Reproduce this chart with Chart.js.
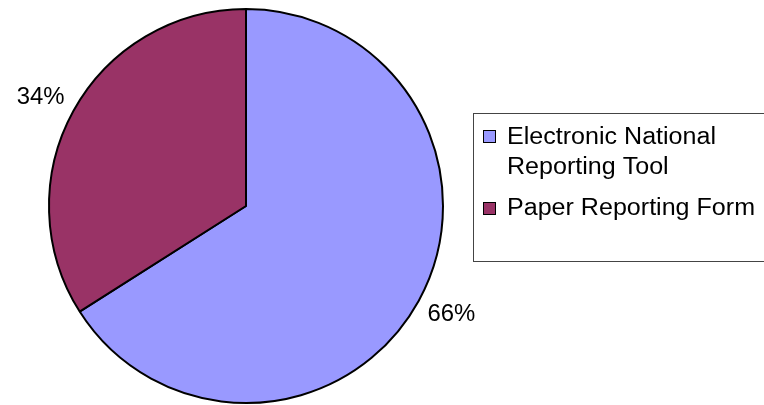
<!DOCTYPE html>
<html>
<head>
<meta charset="utf-8">
<script src="https://cdn.jsdelivr.net/npm/chart.js@4/dist/chart.umd.min.js"></script>
<style>
    body { margin: 0; background: #fff; }
    #wrap { width: 764px; height: 405px; position: relative; }
</style>
</head>
<body>
<div id="wrap"><canvas id="pie" width="764" height="405"></canvas></div>
<script>
// Chart data
const categories = ['Electronic National Reporting Tool', 'Paper Reporting Form'];
const legendLines = [['Electronic National', 'Reporting Tool'], ['Paper Reporting Form']];
const shares = [66, 34];
const sliceColors = ['#9999FF', '#993366'];

// stretch text a bit horizontally, the original uses a wide rendering
function wideText(ctx, text, x, y, sx) {
    ctx.save();
    ctx.translate(x, y);
    ctx.scale(sx, 1);
    ctx.fillText(text, 0, 0);
    ctx.restore();
}

// Percent labels outside each slice
const pctLabels = {
    id: 'pctLabels',
    afterDatasetsDraw(chart) {
        const ctx = chart.ctx;
        const meta = chart.getDatasetMeta(0);
        ctx.save();
        ctx.font = '23px "Liberation Sans", Arial, sans-serif';
        ctx.fillStyle = '#000';
        ctx.textBaseline = 'middle';
        ctx.textAlign = 'left';
        meta.data.forEach((arc, i) => {
            const mid = (arc.startAngle + arc.endAngle) / 2;
            const d = arc.outerRadius + 10;
            const ax = arc.x + Math.cos(mid) * d;
            const ay = arc.y + Math.sin(mid) * d;
            const text = shares[i] + '%';
            const sx = 1.04;
            const w = ctx.measureText(text).width * sx;
            const h = 17;
            const cx = ax + Math.sign(Math.cos(mid)) * w / 2;
            const cy = ay + Math.sign(Math.sin(mid)) * h / 2;
            wideText(ctx, text, cx - w / 2, cy, sx);
        });
        ctx.restore();
    }
};

// Legend box on the right
const boxLegend = {
    id: 'boxLegend',
    afterDraw(chart) {
        const ctx = chart.ctx;
        ctx.save();
        ctx.strokeStyle = '#444';
        ctx.lineWidth = 1;
        ctx.strokeRect(473.5, 113.5, 300, 148);

        ctx.font = '23px "Liberation Sans", Arial, sans-serif';
        ctx.textBaseline = 'alphabetic';
        ctx.textAlign = 'left';
        const baselines = [[144, 174], [215]];
        const swatchTop = [130, 202];
        categories.forEach((cat, i) => {
            ctx.fillStyle = sliceColors[i];
            ctx.fillRect(483.5, swatchTop[i] + 0.5, 12, 12);
            ctx.strokeStyle = '#000';
            ctx.strokeRect(483.5, swatchTop[i] + 0.5, 12, 12);
            ctx.fillStyle = '#000';
            legendLines[i].forEach((line, j) => {
                wideText(ctx, line, 507, baselines[i][j], 1.09);
            });
        });
        ctx.restore();
    }
};

new Chart(document.getElementById('pie'), {
    type: 'pie',
    data: {
        labels: categories,
        datasets: [{
            data: shares,
            backgroundColor: sliceColors,
            borderColor: '#000',
            borderWidth: 2
        }]
    },
    options: {
        responsive: false,
        animation: false,
        layout: {
            padding: { left: 48, top: 8, right: 320, bottom: 1 }
        },
        plugins: {
            legend: { display: false },
            tooltip: { enabled: false }
        }
    },
    plugins: [pctLabels, boxLegend]
});
</script>
</body>
</html>
